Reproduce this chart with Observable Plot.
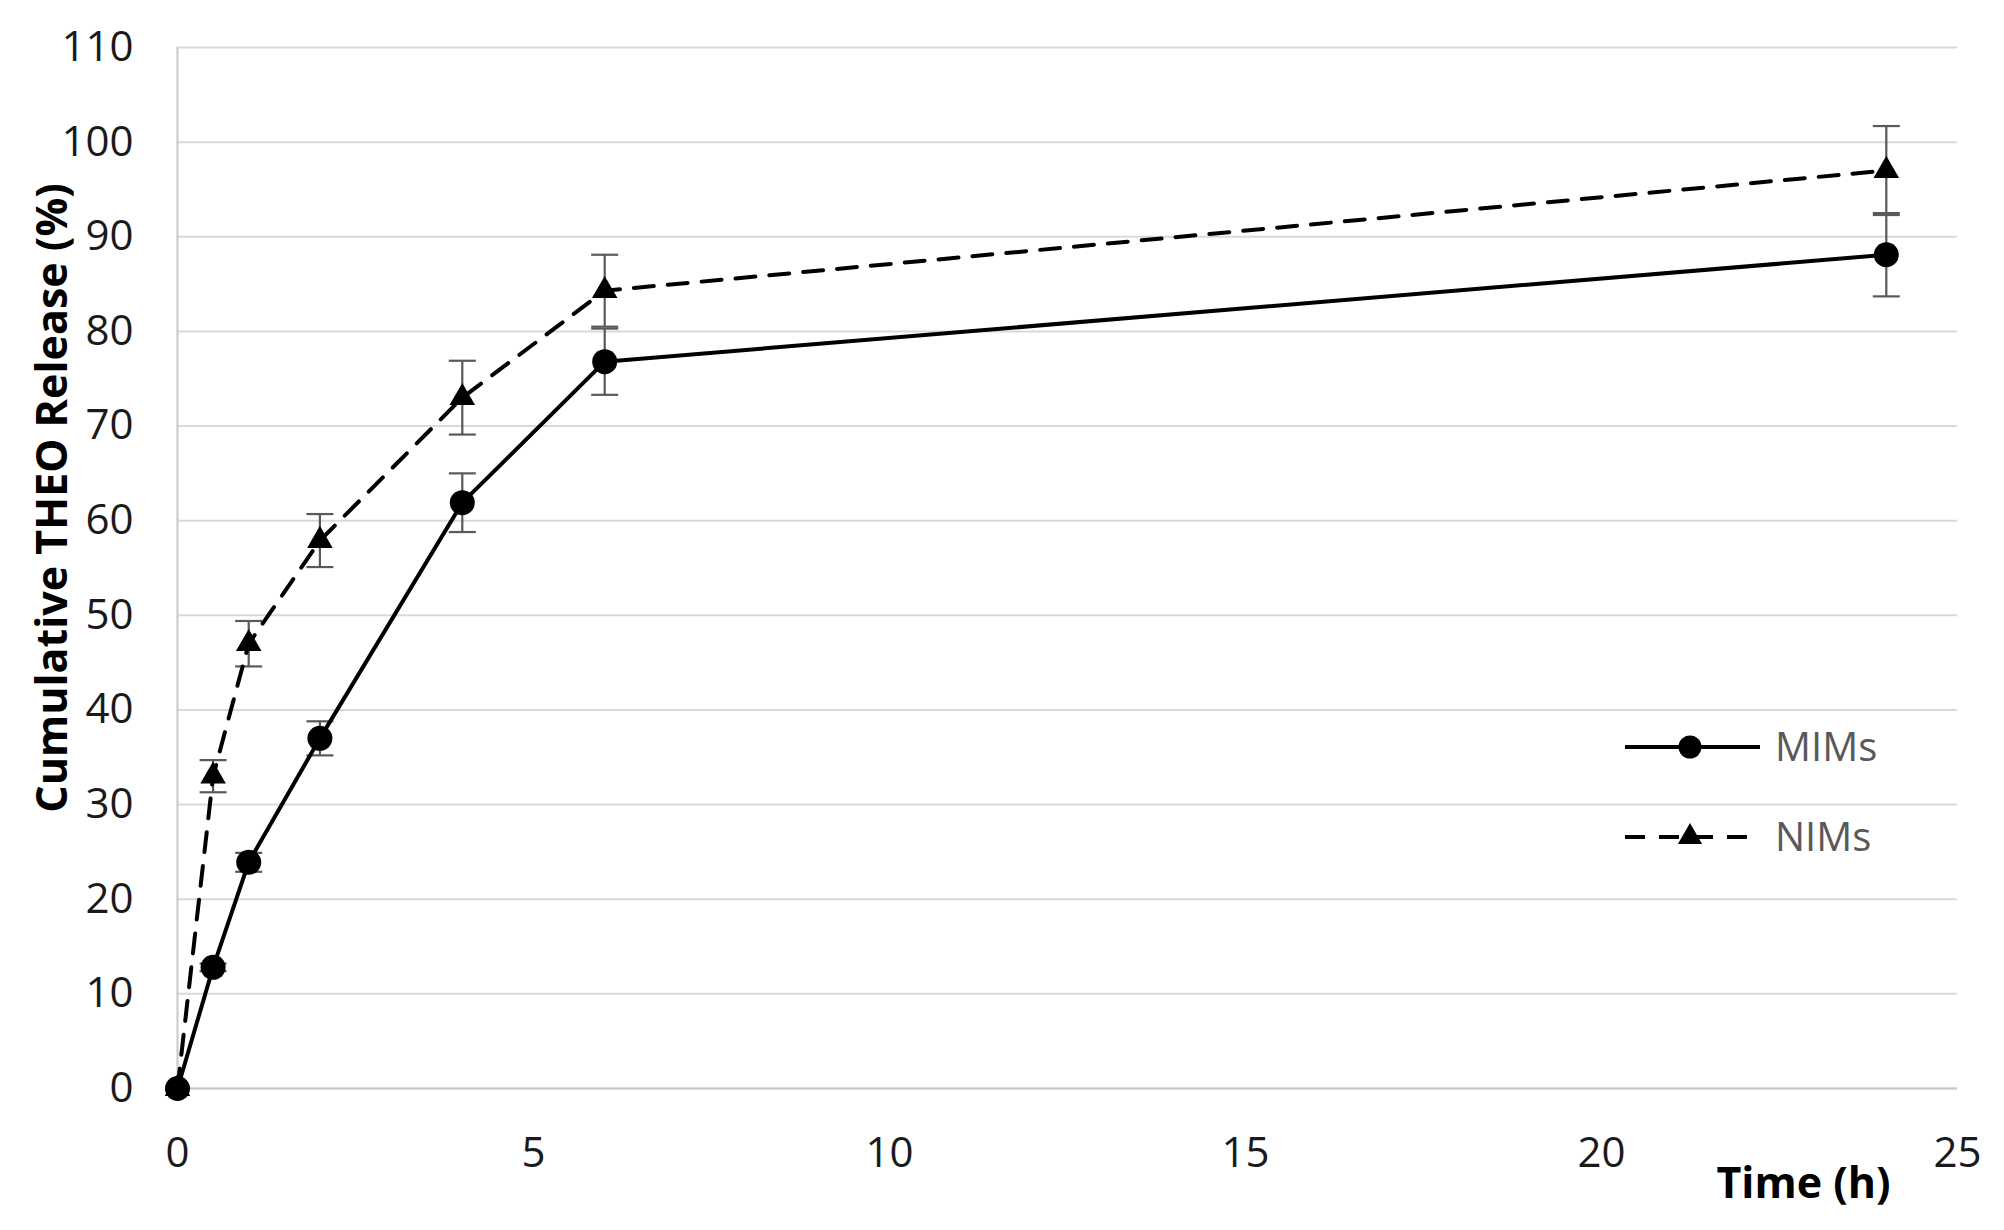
<!DOCTYPE html>
<html><head><meta charset="utf-8">
<script src="https://cdn.jsdelivr.net/npm/d3@7"></script>
<script src="https://cdn.jsdelivr.net/npm/@observablehq/plot@0.6"></script>
<style>
html,body{margin:0;padding:0;background:#fff;}
#wrap{position:relative;width:2004px;height:1230px;}
#legend{position:absolute;left:0;top:0;pointer-events:none;}
</style></head><body><div id="wrap"></div>
<script>
// ---- data ----
const time = [0, 0.5, 1, 2, 4, 6, 24];
const mims = [0, 12.8, 23.9, 37.0, 61.9, 76.8, 88.1];
const mimsErr = [0, 0.4, 1.0, 1.8, 3.1, 3.5, 4.4];
const nims = [0, 33.0, 47.0, 57.9, 73.0, 84.3, 97.0];
const nimsErr = [0, 1.7, 2.4, 2.8, 3.9, 3.8, 4.7];
const seriesNames = ["MIMs", "NIMs"];
const xTicks = [0, 5, 10, 15, 20, 25];
const yTicks = [0, 10, 20, 30, 40, 50, 60, 70, 80, 90, 100, 110];
const xTitle = "Time (h)";
const yTitle = "Cumulative THEO Release (%)";

const rows = [];
time.forEach((t, i) => {
  rows.push({series: seriesNames[0], t, v: mims[i], e: mimsErr[i]});
  rows.push({series: seriesNames[1], t, v: nims[i], e: nimsErr[i]});
});
const errRows = rows.filter(d => d.e > 0);
const mRows = rows.filter(d => d.series === "MIMs");
const nRows = rows.filter(d => d.series === "NIMs");

const capSymbol = {draw(ctx) { ctx.moveTo(-13.5, 0); ctx.lineTo(13.5, 0); }};
const ERR = "#595959";
const FONT = "'Open Sans', 'DejaVu Sans', sans-serif";

const chart = Plot.plot({
  width: 2004,
  height: 1230,
  marginLeft: 177,
  marginRight: 47,
  marginTop: 47,
  marginBottom: 142,
  style: {fontFamily: FONT, fontSize: "42px", color: "#1a1a1a", background: "#fff"},
  x: {domain: [0, 25]},
  y: {domain: [0, 110]},
  marks: [
    Plot.gridY(yTicks, {stroke: "#d9d9d9", strokeWidth: 2, strokeOpacity: 1}),
    Plot.ruleY([0], {stroke: "#c8c8c8", strokeWidth: 2}),
    Plot.ruleX([0], {stroke: "#c8c8c8", strokeWidth: 2}),
    Plot.axisY({ticks: yTicks, tickSize: 0, tickPadding: 44, label: null}),
    Plot.axisX({ticks: xTicks, tickSize: 0, tickPadding: 49, label: null}),
    // error bars
    Plot.ruleX(errRows, {x: "t", y1: d => d.v - d.e, y2: d => d.v + d.e, stroke: ERR, strokeWidth: 2.2}),
    Plot.dot(errRows, {x: "t", y: d => d.v + d.e, symbol: capSymbol, stroke: ERR, strokeWidth: 2.2, fill: "none"}),
    Plot.dot(errRows, {x: "t", y: d => d.v - d.e, symbol: capSymbol, stroke: ERR, strokeWidth: 2.2, fill: "none"}),
    // lines
    Plot.line(nRows, {x: "t", y: "v", stroke: "#000", strokeWidth: 4, strokeDasharray: "20,14"}),
    Plot.line(mRows, {x: "t", y: "v", stroke: "#000", strokeWidth: 4}),
    // markers
    Plot.dot(nRows, {x: "t", y: "v", symbol: "triangle", r: 9.5, fill: "#000", stroke: "none"}),
    Plot.dot(mRows, {x: "t", y: "v", symbol: "circle", r: 12.5, fill: "#000", stroke: "none"}),
    // titles
    Plot.text([yTitle], {text: d => d, frameAnchor: "left", textAnchor: "middle", lineAnchor: "middle",
      rotate: -90, dx: -124, dy: -70, fontWeight: "bold", fontSize: 43, fill: "#000"}),
    Plot.text([xTitle], {text: d => d, frameAnchor: "bottom-right", textAnchor: "middle", lineAnchor: "middle",
      dx: -154, dy: 96, fontWeight: "bold", fontSize: 43, fill: "#000"})
  ]
});

const wrap = document.getElementById("wrap");
wrap.appendChild(chart);

// legend overlay
const lg = d3.select(wrap).append("svg").attr("id", "legend")
  .attr("width", 2004).attr("height", 1230);
const items = [
  {name: seriesNames[0], y: 747, dash: null, sym: d3.symbolCircle, size: Math.PI * 11.5 * 11.5},
  {name: seriesNames[1], y: 837, dash: "20,14", sym: d3.symbolTriangle, size: Math.PI * 9 * 9}
];
items.forEach(it => {
  const g = lg.append("g");
  g.append("line").attr("x1", 1625).attr("x2", 1760).attr("y1", it.y).attr("y2", it.y)
    .attr("stroke", "#000").attr("stroke-width", 4).attr("stroke-dasharray", it.dash);
  g.append("path").attr("d", d3.symbol(it.sym, it.size)()).attr("transform", `translate(1690,${it.y})`)
    .attr("fill", "#000");
  g.append("text").attr("x", 1775).attr("y", it.y).attr("dy", "0.36em")
    .attr("font-family", FONT).attr("font-size", 40).attr("fill", "#595959").text(it.name);
});
</script>
</body></html>
